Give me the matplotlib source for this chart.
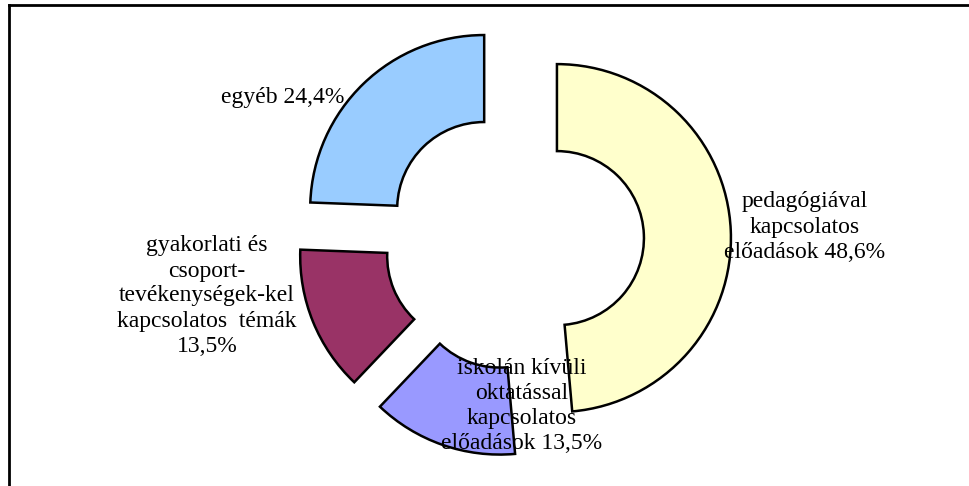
import matplotlib.pyplot as plt
from matplotlib.lines import Line2D

plt.rcParams['font.family'] = ['Liberation Serif', 'DejaVu Serif']

labels = ['pedagógiával\nkapcsolatos\nelőadások 48,6%',
          'iskolán kívüli\noktatással\nkapcsolatos\nelőadások 13,5%',
          'gyakorlati és\ncsoport-\ntevékenységek-kel\nkapcsolatos  témák\n13,5%',
          'egyéb 24,4%']
values = [48.6, 13.5, 13.5, 24.4]
colors = ['#FFFFCC', '#9999FF', '#993366', '#99CCFF']
# label centres in pixels (x from left, y from top)
label_px = [(805, 227), (522, 406), (207, 296), (283, 97)]

W, H = 969, 486
fig = plt.figure(figsize=(W / 100, H / 100), dpi=100)
ax = fig.add_axes([0, 0, 1, 1])

R = 174.0
cx, cy = 514, 240

ax.pie(values, colors=colors, startangle=90, counterclock=False,
       explode=[0.247] * 4, radius=1,
       wedgeprops=dict(width=0.5, edgecolor='black', linewidth=1.8))
ax.set_aspect('auto')
ax.set_xlim(-cx / R, (W - cx) / R)
ax.set_ylim(-(H - cy) / R, cy / R)
ax.axis('off')

for lab, (px, py) in zip(labels, label_px):
    fig.text(px / W, 1 - py / H, lab, ha='center', va='center',
             fontsize=17, linespacing=1.25, color='black')

# frame: left and top edges only
lw = 2
fig.add_artist(Line2D([9 / W, 9 / W], [0, 1 - 5 / H], color='black', lw=lw))
fig.add_artist(Line2D([9 / W, 1], [1 - 5 / H, 1 - 5 / H], color='black', lw=lw))

fig.savefig('out.png', dpi=100, facecolor='white')
